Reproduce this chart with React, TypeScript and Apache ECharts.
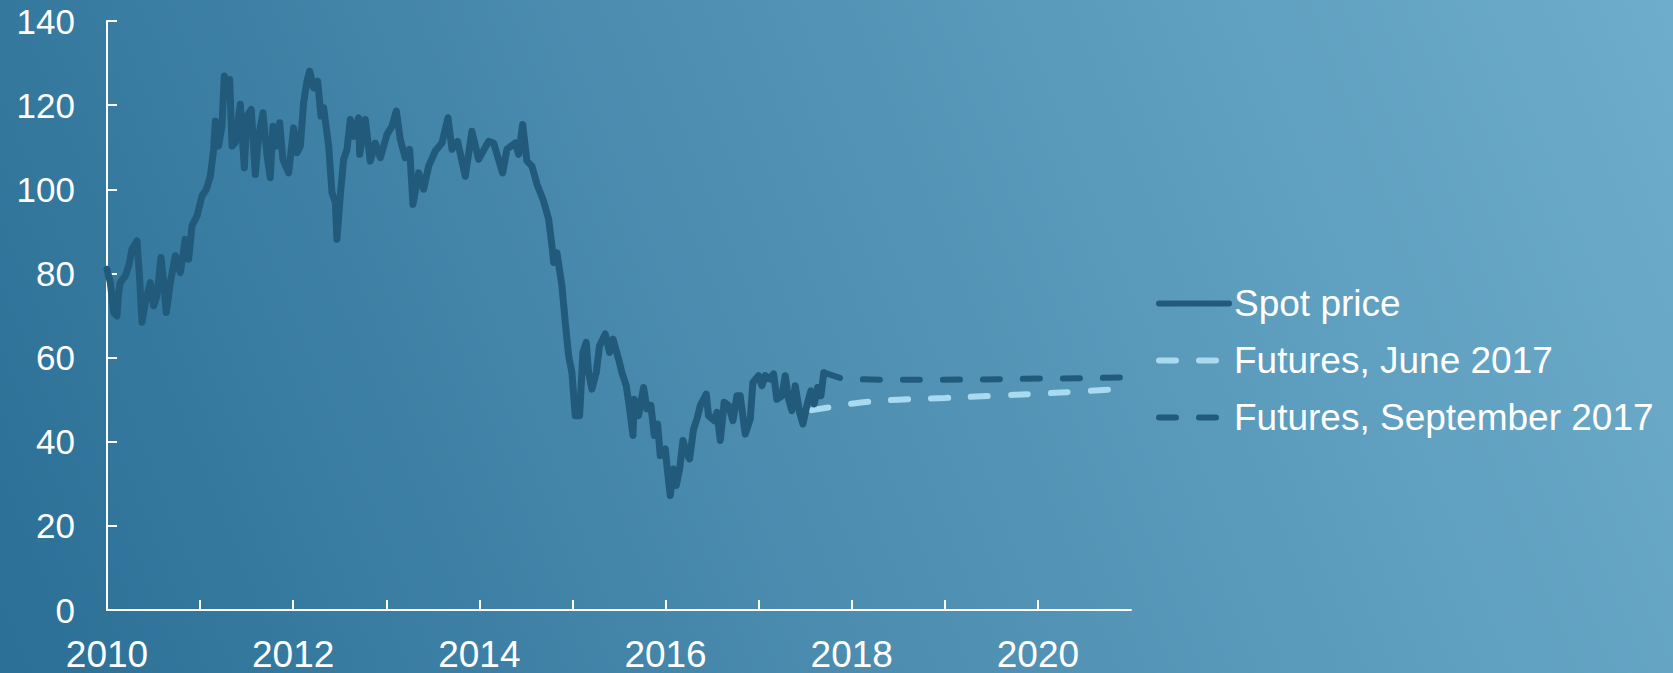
import React, { useEffect, useRef } from "react";
import * as echarts from "echarts";

// Brent spot price (decimal year, USD/barrel)
const spotYears = [
  2010.000, 2010.036, 2010.072, 2010.107, 2010.125, 2010.143, 2010.197, 2010.233, 2010.269, 2010.322,
  2010.351, 2010.376, 2010.412, 2010.465, 2010.501, 2010.537, 2010.580, 2010.609, 2010.637, 2010.680,
  2010.734, 2010.788, 2010.841, 2010.877, 2010.913, 2010.967, 2011.020, 2011.067, 2011.110, 2011.146,
  2011.164, 2011.199, 2011.235, 2011.260, 2011.289, 2011.318, 2011.343, 2011.378, 2011.432, 2011.475,
  2011.504, 2011.550, 2011.593, 2011.629, 2011.676, 2011.719, 2011.754, 2011.783, 2011.826, 2011.855,
  2011.890, 2011.951, 2012.005, 2012.041, 2012.077, 2012.112, 2012.148, 2012.177, 2012.220, 2012.263,
  2012.299, 2012.327, 2012.381, 2012.417, 2012.453, 2012.470, 2012.506, 2012.542, 2012.578, 2012.614,
  2012.649, 2012.703, 2012.714, 2012.775, 2012.828, 2012.882, 2012.936, 2013.007, 2013.061, 2013.108,
  2013.151, 2013.204, 2013.251, 2013.287, 2013.348, 2013.401, 2013.455, 2013.527, 2013.598, 2013.663,
  2013.706, 2013.766, 2013.849, 2013.920, 2013.992, 2014.099, 2014.153, 2014.250, 2014.296, 2014.386,
  2014.422, 2014.465, 2014.511, 2014.565, 2014.619, 2014.690, 2014.744, 2014.780, 2014.798, 2014.833,
  2014.887, 2014.923, 2014.959, 2014.994, 2015.030, 2015.077, 2015.112, 2015.148, 2015.173, 2015.209,
  2015.256, 2015.291, 2015.352, 2015.399, 2015.435, 2015.496, 2015.531, 2015.578, 2015.614, 2015.650,
  2015.664, 2015.710, 2015.764, 2015.800, 2015.843, 2015.879, 2015.915, 2015.943, 2015.997, 2016.022,
  2016.051, 2016.086, 2016.115, 2016.151, 2016.187, 2016.222, 2016.258, 2016.301, 2016.337, 2016.373,
  2016.437, 2016.462, 2016.523, 2016.552, 2016.588, 2016.630, 2016.677, 2016.724, 2016.767, 2016.802,
  2016.856, 2016.910, 2016.938, 2016.999, 2017.035, 2017.071, 2017.125, 2017.161, 2017.196, 2017.250,
  2017.286, 2017.322, 2017.357, 2017.393, 2017.440, 2017.476, 2017.518, 2017.561, 2017.597, 2017.633,
  2017.669, 2017.700,
];
const spotValues = [
  81.0, 77.8, 70.7, 69.9, 75.5, 77.8, 79.4, 81.8, 85.8, 87.7,
  78.6, 68.4, 73.1, 77.8, 72.3, 74.7, 83.8, 77.8, 70.7, 77.8,
  84.2, 80.2, 88.1, 83.4, 91.3, 93.7, 98.4, 100.0, 103.1, 109.5,
  116.2, 110.3, 115.0, 126.9, 122.9, 126.1, 110.3, 111.1, 120.2, 105.1,
  117.4, 119.0, 103.5, 112.6, 118.2, 107.9, 102.8, 115.0, 110.3, 115.8,
  107.1, 103.9, 114.6, 108.7, 110.3, 120.6, 125.7, 128.1, 124.1, 125.7,
  117.4, 119.4, 110.3, 99.2, 96.8, 88.1, 98.4, 107.1, 109.5, 116.6,
  112.6, 117.0, 108.3, 116.6, 106.7, 111.0, 107.5, 113.0, 115.0, 118.6,
  111.8, 107.5, 109.5, 96.4, 103.9, 100.0, 105.5, 109.1, 111.0, 117.0,
  109.5, 111.4, 103.1, 113.8, 107.1, 111.4, 111.0, 103.9, 109.5, 111.0,
  108.3, 115.4, 106.7, 105.5, 101.2, 97.2, 92.9, 86.5, 82.6, 84.9,
  77.0, 68.3, 60.4, 56.5, 46.2, 46.2, 61.2, 63.6, 56.5, 52.5,
  56.5, 62.8, 65.6, 61.2, 64.4, 59.6, 56.5, 53.3, 47.8, 41.5,
  50.1, 46.2, 52.9, 47.8, 48.6, 41.5, 44.2, 36.7, 38.3, 32.7,
  27.2, 33.5, 29.6, 33.5, 40.3, 37.5, 35.9, 43.0, 45.4, 48.6,
  51.3, 46.2, 45.0, 47.0, 40.3, 49.4, 48.6, 45.0, 50.9, 50.9,
  41.8, 45.4, 54.1, 55.7, 53.3, 55.7, 54.9, 56.1, 50.1, 50.9,
  55.7, 50.1, 47.4, 53.3, 47.0, 44.2, 48.6, 52.1, 49.0, 52.9,
  50.9, 56.4,
];

// Futures curves
const juneYears = [2017.57, 2017.8, 2018.1, 2018.5, 2019.0, 2019.5, 2020.0, 2020.5, 2020.9];
const juneValues = [47.5, 48.3, 49.3, 50.0, 50.4, 50.9, 51.4, 52.0, 52.6];
const septYears = [2017.70, 2017.90, 2018.3, 2018.8, 2019.4, 2020.0, 2020.5, 2020.97];
const septValues = [56.4, 55.0, 54.7, 54.7, 54.8, 55.0, 55.1, 55.3];

const seriesNames = ["Spot price", "Futures, June 2017", "Futures, September 2017"];
const yTicks = [0, 20, 40, 60, 80, 100, 120, 140];
const xTickYears = [2010, 2011, 2012, 2013, 2014, 2015, 2016, 2017, 2018, 2019, 2020];
const xLabelYears = [2010, 2012, 2014, 2016, 2018, 2020];

const pair = (xs: number[], ys: number[]) => xs.map((x, i) => [x, ys[i]]);

const DARK = "#225A7C";
const LIGHT = "#A9DAF0";
const FONT = "Liberation Sans, Arial, sans-serif";

export default function App() {
  const ref = useRef<HTMLDivElement>(null);
  useEffect(() => {
    if (!ref.current) return;
    const chart = echarts.init(ref.current, undefined, { renderer: "svg" });
    chart.setOption({
      animation: false,
      backgroundColor: "transparent",
      grid: { left: 107, top: 21, width: 1024, height: 590, containLabel: false },
      legend: {
        orient: "vertical",
        left: 1151,
        top: 280,
        itemWidth: 70,
        itemHeight: 20,
        itemGap: 20,
        data: seriesNames,
        itemStyle: { opacity: 0, borderWidth: 0 },
        lineStyle: { width: 6, cap: "round" },
        textStyle: { color: "#ffffff", fontSize: 37, fontFamily: FONT },
      },
      xAxis: {
        type: "value",
        min: 2010,
        max: 2021,
        interval: 1,
        axisLine: { show: true, lineStyle: { color: "#ffffff", width: 2 } },
        axisTick: {
          show: true,
          inside: true,
          length: 10,
          lineStyle: { color: "#ffffff", width: 2 },
          customValues: xTickYears,
        },
        axisLabel: {
          color: "#ffffff",
          fontSize: 37,
          fontFamily: FONT,
          margin: 26,
          customValues: xLabelYears,
          formatter: (v: number) => String(v),
        },
        splitLine: { show: false },
      },
      yAxis: {
        type: "value",
        min: 0,
        max: 140,
        interval: 20,
        axisLine: { show: true, lineStyle: { color: "#ffffff", width: 2 } },
        axisTick: {
          show: true,
          inside: true,
          length: 10,
          lineStyle: { color: "#ffffff", width: 2 },
          customValues: yTicks,
        },
        axisLabel: { color: "#ffffff", fontSize: 35, fontFamily: FONT, margin: 32 },
        splitLine: { show: false },
      },
      series: [
        {
          name: seriesNames[0],
          type: "line",
          data: pair(spotYears, spotValues),
          symbol: "none",
          color: DARK,
          lineStyle: { color: DARK, width: 7, cap: "round", join: "round" },
          z: 3,
        },
        {
          name: seriesNames[1],
          type: "line",
          data: pair(juneYears, juneValues),
          symbol: "none",
          smooth: true,
          color: LIGHT,
          lineStyle: { color: LIGHT, width: 6, type: [17, 23], cap: "round" },
          z: 2,
        },
        {
          name: seriesNames[2],
          type: "line",
          data: pair(septYears, septValues),
          symbol: "none",
          color: DARK,
          lineStyle: { color: DARK, width: 6, type: [17, 23], cap: "round" },
          z: 2,
        },
      ],
    });
    return () => chart.dispose();
  }, []);
  return (
    <div
      ref={ref}
      style={{
        position: "absolute",
        left: 0,
        top: 0,
        width: 1673,
        height: 673,
        background: "linear-gradient(68deg, #2B6F96 0%, #4C8DB0 45%, #6EADCB 100%)",
      }}
    />
  );
}
